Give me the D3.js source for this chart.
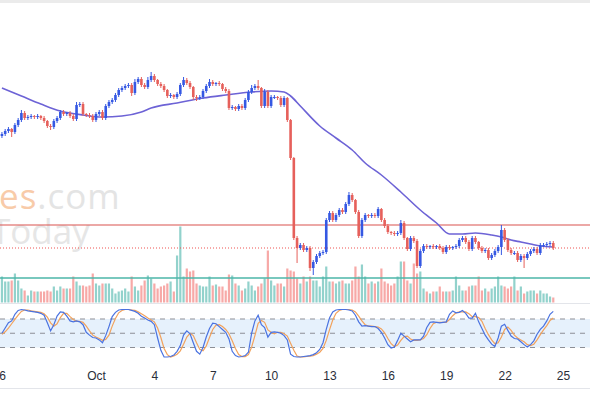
<!DOCTYPE html>
<html>
<head>
<meta charset="utf-8">
<script src="https://cdn.jsdelivr.net/npm/d3@7"></script>
<style>
  html, body { margin: 0; padding: 0; background: #fff; }
  svg { display: block; font-family: "Liberation Sans", Arial, sans-serif; }
</style>
</head>
<body>
<svg id="chart"></svg>
<script>
var w = 590;
var h = 393;

// 4h candles, first one opens Sep 26 04:00
var startTime = Date.UTC(2023, 8, 26, 4);
var stepHours = 4;
var firstOpen = 164;

var closes = [
  166, 169, 171, 168, 175, 180, 187, 182, 183, 184,
  183, 184, 182, 179, 174, 173, 179, 182, 188, 186,
  187, 184, 181, 195, 196, 186, 185, 184, 180, 186,
  188, 182, 194, 198, 200, 205, 210, 212, 214, 215,
  207, 218, 221, 215, 213, 220, 224, 220, 216, 214,
  210, 204, 205, 203, 206, 215, 220, 217, 213, 203,
  202, 203, 209, 214, 218, 216, 217, 216, 211, 209,
  192, 193, 191, 194, 192, 200, 208, 212, 214, 212,
  194, 208, 194, 203, 203, 202, 195, 202, 180, 142,
  62, 52, 55, 50, 52, 32, 38, 44, 47, 48,
  80, 87, 80, 85, 90, 88, 96, 105, 100, 88,
  64, 80, 85, 84, 85, 84, 91, 80, 74, 68,
  67, 66, 67, 77, 62, 51, 62, 59, 34, 49,
  54, 53, 54, 53, 54, 52, 48, 53, 52, 53,
  54, 60, 62, 58, 51, 62, 58, 52, 49, 50,
  42, 45, 49, 53, 70, 60, 50, 47, 47, 40,
  44, 42, 46, 49, 51, 47, 55, 55, 56, 57,
  52
];

var wickUp = [
  2, 2, 2, 1, 2, 2, 3, 2, 2, 2,
  1, 2, 1, 2, 1, 2, 2, 2, 2, 2,
  1, 2, 2, 3, 2, 2, 1, 2, 2, 2,
  2, 2, 2, 2, 2, 2, 2, 2, 2, 2,
  2, 3, 2, 2, 2, 3, 4, 2, 1, 2,
  2, 1, 2, 1, 2, 2, 3, 2, 2, 1,
  2, 2, 2, 2, 3, 2, 1, 2, 1, 2,
  2, 2, 1, 2, 2, 2, 2, 3, 2, 6,
  1, 3, 2, 2, 2, 1, 2, 2, 1, 1,
  1, 2, 2, 2, 2, 2, 2, 2, 2, 2,
  2, 2, 2, 2, 2, 2, 2, 3, 2, 1,
  2, 2, 2, 1, 2, 2, 2, 1, 2, 2,
  1, 2, 2, 3, 2, 1, 2, 2, 2, 2,
  2, 2, 1, 2, 1, 2, 2, 2, 2, 1,
  2, 2, 2, 2, 2, 2, 2, 1, 2, 2,
  2, 2, 2, 2, 5, 2, 2, 2, 2, 2,
  2, 2, 2, 2, 2, 2, 2, 2, 2, 2,
  2
];

var wickDn = [
  2, 2, 2, 5, 2, 2, 2, 2, 2, 2,
  2, 2, 2, 2, 2, 3, 2, 2, 2, 2,
  2, 2, 2, 2, 2, 2, 2, 2, 2, 2,
  2, 2, 2, 2, 2, 2, 2, 2, 2, 2,
  3, 2, 2, 2, 2, 2, 2, 2, 2, 2,
  2, 2, 2, 2, 2, 2, 2, 2, 2, 3,
  3, 2, 2, 2, 2, 2, 2, 2, 2, 2,
  2, 2, 2, 2, 2, 2, 2, 2, 2, 2,
  2, 2, 2, 2, 2, 2, 2, 2, 2, 2,
  2, 15, 2, 2, 2, 3, 7, 2, 2, 2,
  2, 2, 2, 2, 2, 2, 2, 2, 2, 2,
  2, 2, 2, 2, 2, 2, 2, 2, 2, 2,
  2, 2, 2, 2, 2, 2, 2, 2, 2, 2,
  2, 2, 2, 2, 2, 2, 2, 2, 2, 2,
  2, 2, 2, 2, 2, 2, 2, 2, 2, 2,
  2, 2, 2, 2, 8, 2, 2, 2, 2, 2,
  2, 10, 2, 2, 2, 2, 2, 2, 2, 2,
  2
];

var volumes = [
  26, 21, 21, 22, 29, 22, 14, 12, 7, 12,
  11, 11, 11, 11, 12, 11, 16, 12, 16, 14,
  14, 14, 26, 21, 17, 17, 16, 17, 29, 19,
  17, 19, 19, 19, 14, 9, 11, 12, 14, 11,
  26, 16, 12, 17, 22, 27, 24, 19, 14, 16,
  17, 19, 21, 11, 47, 76, 26, 34, 31, 32,
  19, 17, 16, 16, 26, 17, 18, 16, 16, 12,
  28, 27, 19, 17, 12, 14, 21, 17, 12, 16,
  19, 24, 52, 22, 17, 19, 19, 16, 34, 32,
  31, 24, 19, 26, 21, 26, 22, 22, 16, 26,
  36, 21, 21, 19, 21, 22, 19, 19, 22, 36,
  26, 38, 26, 19, 21, 19, 21, 34, 21, 19,
  17, 19, 26, 41, 41, 22, 19, 39, 29, 31,
  14, 11, 9, 11, 11, 16, 11, 11, 11, 12,
  26, 17, 12, 12, 16, 17, 17, 26, 12, 14,
  11, 14, 16, 26, 17, 16, 14, 16, 26, 12,
  16, 9, 11, 12, 12, 9, 12, 9, 9, 6,
  5
];

var stochK = [
  50, 61, 72, 76, 90, 98, 100, 99, 97, 96,
  95, 94, 92, 88, 72, 55, 68, 86, 95, 94,
  86, 76, 74, 76, 74, 68, 52, 46, 41, 40,
  36, 30, 45, 64, 85, 94, 99, 100, 100, 100,
  98, 96, 92, 86, 82, 78, 75, 68, 40, 14,
  0, 0, 1, 4, 12, 24, 46, 55, 49, 30,
  12, 6, 20, 42, 60, 71, 70, 64, 58, 52,
  38, 12, 3, 0, 1, 3, 10, 50, 76, 88,
  68, 62, 42, 52, 53, 52, 50, 45, 36, 6,
  1, 0, 0, 1, 2, 3, 5, 9, 16, 30,
  58, 82, 95, 99, 100, 100, 100, 99, 97, 88,
  74, 65, 66, 65, 64, 64, 60, 52, 40, 26,
  19, 21, 35, 50, 44, 38, 32, 36, 36, 36,
  44, 62, 73, 74, 73, 72, 73, 74, 90, 97,
  93, 94, 98, 92, 82, 82, 92, 74, 60, 46,
  36, 27, 22, 40, 65, 69, 56, 44, 39, 38,
  32, 26, 21, 26, 34, 48, 58, 65, 76, 90,
  96
];

var stochD = [
  48, 53, 61, 70, 79, 88, 96, 99, 99, 97,
  96, 95, 94, 91, 84, 72, 65, 70, 83, 92,
  92, 85, 79, 75, 75, 73, 65, 55, 46, 42,
  39, 35, 37, 46, 65, 81, 93, 98, 100, 100,
  99, 98, 95, 91, 87, 82, 78, 74, 61, 41,
  18, 5, 0, 2, 6, 13, 27, 42, 50, 45,
  30, 16, 13, 23, 41, 58, 67, 68, 64, 58,
  49, 34, 18, 5, 1, 1, 5, 21, 45, 71,
  77, 73, 57, 52, 49, 52, 52, 49, 44, 29,
  14, 2, 0, 0, 1, 2, 3, 6, 10, 18,
  35, 57, 78, 92, 98, 100, 100, 100, 99, 95,
  86, 76, 68, 65, 65, 64, 63, 59, 51, 39,
  28, 22, 25, 35, 43, 44, 38, 35, 35, 36,
  39, 47, 60, 70, 73, 73, 73, 73, 79, 87,
  93, 95, 95, 95, 91, 85, 85, 83, 75, 60,
  47, 36, 28, 30, 42, 58, 63, 56, 46, 40,
  36, 32, 26, 24, 27, 36, 47, 57, 66, 77,
  82
];

// moving average read at some candle positions
var maIndex = [0, 6, 12, 18, 25, 31, 37, 43, 46, 54, 62, 69, 77, 83, 87, 89, 92, 98, 103, 108,
  112, 117, 123, 129, 134, 138, 142, 146, 151, 154, 157, 160, 163, 166, 170];
var maValue = [212, 204, 196, 189, 185, 183, 184, 188, 192, 197, 202, 205, 208, 209, 208, 204, 194, 174, 162, 150,
  137, 125, 108, 90, 77, 66, 66, 67, 65, 63, 60, 58, 56, 54, 53];

var resistance = 75;
var support = 22;

var tickDays = ["2023-09-26", "2023-10-01", "2023-10-04", "2023-10-07", "2023-10-10",
  "2023-10-13", "2023-10-16", "2023-10-19", "2023-10-22", "2023-10-25"];

var upColor = '#3558e3';
var downColor = '#e6605b';

var candles = closes.map(function (c, i) {
  var o = i === 0 ? firstOpen : closes[i - 1];
  return {
    t: new Date(startTime + i * stepHours * 3600e3),
    o: o,
    c: c,
    hi: Math.max(o, c) + wickUp[i],
    lo: Math.min(o, c) - wickDn[i],
    v: volumes[i],
    k: stochK[i],
    d: stochD[i]
  };
});

var x = d3.scaleUtc()
  .domain([new Date(Date.UTC(2023, 8, 26)), new Date(Date.UTC(2023, 9, 25))])
  .range([-1.3, 563]);
var y = d3.scaleLinear().domain([20, 230]).range([280, 70]);
var yVol = d3.scaleLinear().domain([0, 100]).range([302.5, 202.5]);
var yStoch = d3.scaleLinear().domain([0, 100]).range([357, 309.5]);

var svg = d3.select('#chart').attr('width', w).attr('height', h);

svg.append('rect').attr('width', w).attr('height', h).attr('fill', '#fff');
svg.append('rect').attr('width', w).attr('height', 3).attr('fill', '#ebebeb');

// watermark
var wm = svg.append('g').attr('font-family', '"Open Sans", sans-serif').attr('font-size', 35);
var wm1 = wm.append('text').attr('x', -1).attr('y', 209).attr('letter-spacing', 1);
wm1.append('tspan').attr('fill', '#f8cba9').text('es');
wm1.append('tspan').attr('fill', '#e4e4e4').text('.com');
wm.append('text').attr('x', -9).attr('y', 244).attr('fill', '#e6e6e6').text('Today');

// stochastic band
svg.append('rect')
  .attr('x', 0).attr('width', w)
  .attr('y', yStoch(80)).attr('height', yStoch(20) - yStoch(80))
  .attr('fill', '#e6f1fc');

svg.selectAll('line.band')
  .data([80, 50, 20])
  .enter()
  .append('line')
  .attr('class', 'band')
  .attr('x1', 0).attr('x2', w)
  .attr('y1', function (d) { return yStoch(d); })
  .attr('y2', function (d) { return yStoch(d); })
  .attr('stroke', '#8d8f96')
  .attr('stroke-width', 1)
  .attr('stroke-dasharray', '5,5');

// pane separator
svg.append('line')
  .attr('x1', 0).attr('x2', w).attr('y1', 303.5).attr('y2', 303.5)
  .attr('stroke', '#e3e5ea');

// volume
svg.selectAll('rect.vol')
  .data(candles)
  .enter()
  .append('rect')
  .attr('class', 'vol')
  .attr('x', function (d) { return x(d.t) - 1.1; })
  .attr('width', 2.2)
  .attr('y', function (d) { return yVol(d.v); })
  .attr('height', function (d) { return yVol(0) - yVol(d.v); })
  .attr('fill', function (d) { return d.c >= d.o ? '#26a69a' : '#ef5350'; })
  .attr('fill-opacity', 0.5);

// horizontal levels
svg.append('line')
  .attr('x1', 0).attr('x2', w)
  .attr('y1', y(resistance)).attr('y2', y(resistance))
  .attr('stroke', '#d9534f').attr('stroke-width', 1.2);

svg.append('line')
  .attr('x1', 0).attr('x2', w)
  .attr('y1', y(support)).attr('y2', y(support))
  .attr('stroke', '#4db6a8').attr('stroke-width', 1.4);

var last = candles[candles.length - 1];
svg.append('line')
  .attr('x1', 0).attr('x2', w)
  .attr('y1', y(last.c)).attr('y2', y(last.c))
  .attr('stroke', '#ef5350').attr('stroke-width', 1)
  .attr('stroke-dasharray', '1,2');

// moving average
var maLine = d3.line()
  .x(function (d) { return x(candles[d[0]].t); })
  .y(function (d) { return y(d[1]); })
  .curve(d3.curveMonotoneX);

svg.append('path')
  .datum(d3.zip(maIndex, maValue))
  .attr('d', maLine)
  .attr('fill', 'none')
  .attr('stroke', '#6d63d6')
  .attr('stroke-width', 1.6);

// candles
var cg = svg.selectAll('g.candle')
  .data(candles)
  .enter()
  .append('g')
  .attr('class', 'candle');

cg.append('line')
  .attr('x1', function (d) { return x(d.t); })
  .attr('x2', function (d) { return x(d.t); })
  .attr('y1', function (d) { return y(d.hi); })
  .attr('y2', function (d) { return y(d.lo); })
  .attr('stroke', function (d) { return d.c >= d.o ? upColor : downColor; })
  .attr('stroke-width', 1);

cg.append('rect')
  .attr('x', function (d) { return x(d.t) - 1.3; })
  .attr('width', 2.6)
  .attr('y', function (d) { return y(Math.max(d.o, d.c)); })
  .attr('height', function (d) { return Math.max(1, Math.abs(y(d.o) - y(d.c))); })
  .attr('fill', function (d) { return d.c >= d.o ? upColor : downColor; });

// stochastic lines
var kLine = d3.line()
  .x(function (d) { return x(d.t); })
  .y(function (d) { return yStoch(d.k); });
var dLine = d3.line()
  .x(function (d) { return x(d.t); })
  .y(function (d) { return yStoch(d.d); });

svg.append('path').datum(candles).attr('d', dLine)
  .attr('fill', 'none').attr('stroke', '#f2a25c').attr('stroke-width', 1.2);
svg.append('path').datum(candles).attr('d', kLine)
  .attr('fill', 'none').attr('stroke', '#4a72e0').attr('stroke-width', 1.2);

// time axis
var parseDay = d3.utcParse('%Y-%m-%d');
var axis = d3.axisBottom(x)
  .tickValues(tickDays.map(parseDay))
  .tickSize(0)
  .tickPadding(9)
  .tickFormat(function (d) {
    return d.getUTCDate() === 1 ? d3.utcFormat('%b')(d) : d3.utcFormat('%-d')(d);
  });

var ax = svg.append('g').attr('transform', 'translate(0,362)').call(axis);
ax.select('.domain').remove();
ax.selectAll('text').attr('fill', '#2a2e39').attr('font-size', 12)
  .attr('font-family', '"Liberation Sans", Arial, sans-serif');

svg.append('line')
  .attr('x1', 0).attr('x2', w).attr('y1', 388.5).attr('y2', 388.5)
  .attr('stroke', '#e3e5ea');
</script>
</body>
</html>
